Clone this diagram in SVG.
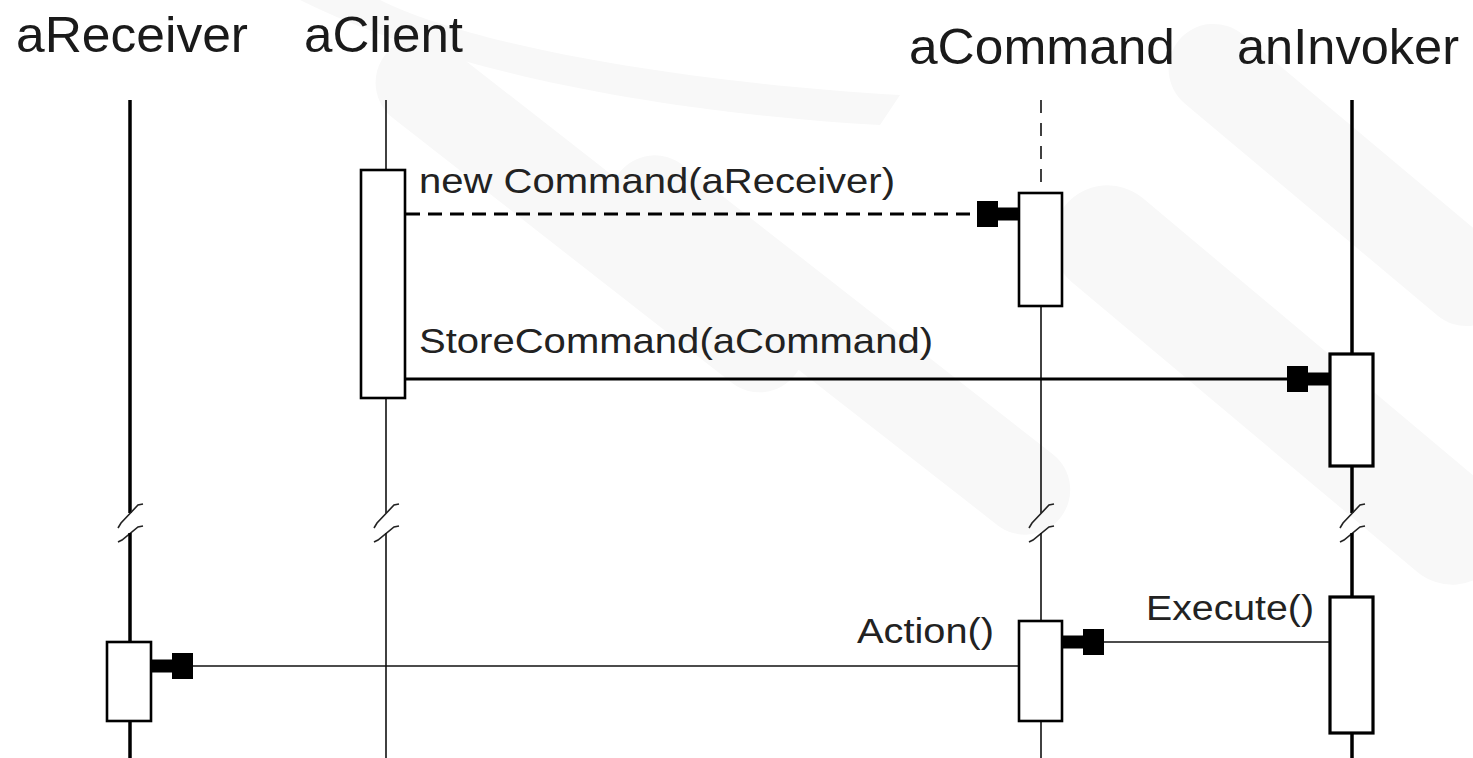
<svg xmlns="http://www.w3.org/2000/svg" width="1473" height="758" viewBox="0 0 1473 758">
  <defs>
    <style>
      .hdr { font-family: "Liberation Sans", Arial, sans-serif; font-size: 50px; fill: #1a1a1a; }
      .lbl { font-family: "Liberation Sans", Arial, sans-serif; font-size: 35px; fill: #222; }
      .life-thick { stroke: #000; stroke-width: 3.5; fill: none; }
      .life-thin { stroke: #111; stroke-width: 1.6; fill: none; }
      .life-dash { stroke: #111; stroke-width: 1.6; fill: none; stroke-dasharray: 13 10; }
      .brk { stroke: #222; stroke-width: 1.6; fill: none; }
      .act { fill: #fff; stroke: #000; stroke-width: 2.6; }
      .act-thick { fill: #fff; stroke: #000; stroke-width: 3.2; }
      .msg-thick { stroke: #000; stroke-width: 3; fill: none; }
      .msg-dash { stroke: #000; stroke-width: 3; fill: none; stroke-dasharray: 14 8; }
      .msg-thin { stroke: #111; stroke-width: 1.6; fill: none; }
      .wm { fill: #f8f8f8; }
    </style>
    <marker id="head" viewBox="0 0 42 28" refX="42" refY="14" markerWidth="42" markerHeight="28" markerUnits="userSpaceOnUse" orient="auto">
      <path d="M0,1 H21 V7.5 H42 V20.5 H21 V27 H0 Z" fill="#000"/>
    </marker>
  </defs>

  <rect x="0" y="0" width="1473" height="758" fill="#fff"/>

  <!-- faint watermark -->
  <g id="watermark">
    <path class="wm" d="M300,0 C420,60 620,110 880,125 L900,95 C650,80 460,40 380,0 Z"/>
    <rect class="wm" x="330" y="170" width="520" height="90" rx="45" transform="rotate(38 590 215)"/>
    <rect class="wm" x="560" y="300" width="560" height="90" rx="45" transform="rotate(38 840 345)"/>
    <rect class="wm" x="1000" y="330" width="560" height="110" rx="55" transform="rotate(40 1280 385)"/>
    <rect class="wm" x="1130" y="130" width="420" height="90" rx="45" transform="rotate(40 1340 175)"/>
  </g>

  <!-- lifelines -->
  <g id="lifelines">
    <g id="aReceiver">
      <text class="hdr" x="16" y="52" textLength="232" lengthAdjust="spacingAndGlyphs">aReceiver</text>
      <line class="life-thick" x1="130" y1="100" x2="130" y2="513"/>
      <path class="brk" d="M143,504 L138,505 L121,523 L118,528"/>
      <path class="brk" d="M143,526 L138,527 L122,540 L118,542"/>
      <line class="life-thick" x1="130" y1="533" x2="130" y2="758"/>
      <rect class="act" x="107" y="642" width="44" height="79"/>
    </g>
    <g id="aClient">
      <text class="hdr" x="304" y="52" textLength="159" lengthAdjust="spacingAndGlyphs">aClient</text>
      <line class="life-thin" x1="386" y1="100" x2="386" y2="513"/>
      <path class="brk" d="M399,504 L394,505 L377,523 L374,528"/>
      <path class="brk" d="M399,526 L394,527 L378,540 L374,542"/>
      <line class="life-thin" x1="386" y1="533" x2="386" y2="758"/>
      <rect class="act" x="361" y="170" width="44" height="228"/>
    </g>
    <g id="aCommand">
      <text class="hdr" x="909" y="64" textLength="266" lengthAdjust="spacingAndGlyphs">aCommand</text>
      <line class="life-dash" x1="1041" y1="100" x2="1041" y2="193"/>
      <line class="life-thin" x1="1041" y1="306" x2="1041" y2="513"/>
      <path class="brk" d="M1054,504 L1049,505 L1032,523 L1029,528"/>
      <path class="brk" d="M1054,526 L1049,527 L1033,540 L1029,542"/>
      <line class="life-thin" x1="1041" y1="533" x2="1041" y2="758"/>
      <rect class="act" x="1019" y="193" width="43" height="113"/>
      <rect class="act" x="1019" y="621" width="43" height="100"/>
    </g>
    <g id="anInvoker">
      <text class="hdr" x="1237" y="64" textLength="222" lengthAdjust="spacingAndGlyphs">anInvoker</text>
      <line class="life-thick" x1="1352" y1="100" x2="1352" y2="513"/>
      <path class="brk" d="M1365,504 L1360,505 L1343,523 L1340,528"/>
      <path class="brk" d="M1365,526 L1360,527 L1344,540 L1340,542"/>
      <line class="life-thick" x1="1352" y1="533" x2="1352" y2="758"/>
      <rect class="act-thick" x="1330" y="354" width="43" height="112"/>
      <rect class="act-thick" x="1330" y="597" width="43" height="136"/>
    </g>
  </g>

  <!-- messages -->
  <g id="connectors">
    <line class="msg-dash" x1="406" y1="214" x2="1019" y2="214" marker-end="url(#head)"/>
    <line class="msg-thick" x1="406" y1="379" x2="1329" y2="379" marker-end="url(#head)"/>
    <line class="msg-thin" x1="1329" y1="642" x2="1062" y2="642" marker-end="url(#head)"/>
    <line class="msg-thin" x1="1018" y1="666" x2="151" y2="666" marker-end="url(#head)"/>
  </g>

  <g id="labels">
    <text class="lbl" x="419" y="193" textLength="476" lengthAdjust="spacingAndGlyphs">new Command(aReceiver)</text>
    <text class="lbl" x="419" y="353" textLength="514" lengthAdjust="spacingAndGlyphs">StoreCommand(aCommand)</text>
    <text class="lbl" x="857" y="643" textLength="137" lengthAdjust="spacingAndGlyphs">Action()</text>
    <text class="lbl" x="1146" y="620" textLength="168" lengthAdjust="spacingAndGlyphs">Execute()</text>
  </g>
</svg>
